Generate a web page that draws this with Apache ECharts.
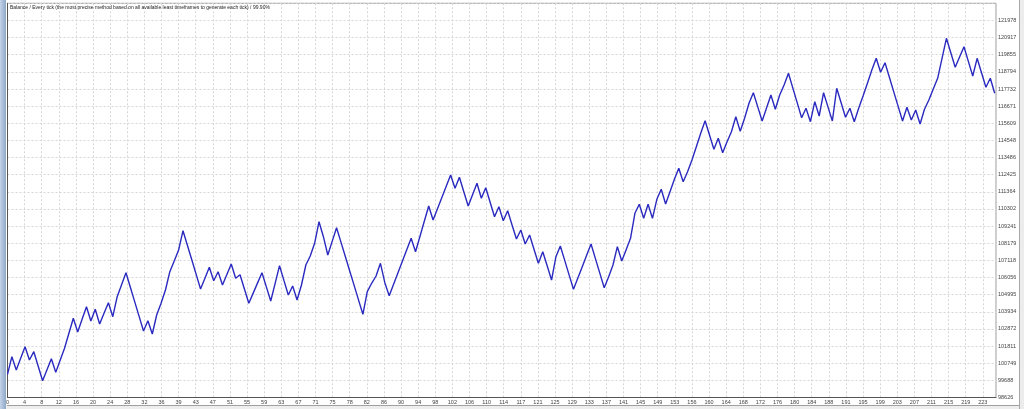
<!DOCTYPE html>
<html><head><meta charset="utf-8">
<script src="https://cdn.jsdelivr.net/npm/echarts@6/dist/echarts.min.js"></script>
<style>html,body{margin:0;padding:0;background:#fff;overflow:hidden}#c{width:1024px;height:409px;}</style>
</head><body><div id="c"></div>
<script>
const titleText = 'Balance / Every tick (the most precise method based on all available least timeframes to generate each tick) / 99.90%';

const xTickLabels = [0,4,8,12,16,20,24,28,32,36,39,43,47,51,55,59,63,67,71,75,78,82,86,90,94,98,102,106,110,114,117,121,125,129,133,137,141,145,149,153,156,160,164,168,172,176,180,184,188,191,195,199,203,207,211,215,219,223];

const yTickLabels = [98626,99688,100749,101811,102872,103934,104995,106056,107118,108179,109241,110302,111364,112425,113486,114548,115609,116671,117732,118794,119855,120917,121978];

const balance = [
100063,101153,100330,101054,101772,100949,101463,100565,99667,100348,
101029,100187,100930,101673,102602,103531,102683,103469,104250,103364,
104089,103178,103841,104497,103630,104869,105612,106355,105451,104547,
103649,102745,103383,102559,103736,104460,105284,106417,107080,107761,
108956,108052,107154,106250,105346,106015,106690,105860,106417,105594,
106244,106894,106009,106231,105346,104460,105092,105724,106355,105476,
104603,105693,106789,105878,104974,105532,104665,105594,106832,107390,
108176,109514,108585,107451,108294,109142,108250,107359,106461,105569,
104671,103779,105179,105699,106151,106937,105736,104931,105643,106355,
107061,107774,108486,107656,108597,109539,110486,109619,110313,111012,
111706,112406,111582,112263,111372,110486,111186,111892,110963,111619,
110721,109823,110443,109576,110195,109309,108442,109000,108133,108690,
107811,106937,107656,106783,105903,107346,108009,107117,106219,105327,
106027,106727,107433,108133,107228,106331,105426,106089,106832,107965,
107080,107780,108486,110034,110591,109724,110591,109724,110901,111520,
110610,111372,112140,112821,111991,112610,113335,114158,114988,115769,
114883,113997,114679,113787,114468,115087,116016,115112,115917,116846,
117503,116623,115750,116555,117360,116475,117360,117980,118704,117788,
116871,115954,116537,115707,116945,116060,117503,116623,115750,117775,
116877,115979,116537,115707,116537,117298,118085,118909,119633,118766,
119361,118456,117552,116654,115750,116599,115812,116431,115564,116475,
117051,117732,118395,119633,120872,119974,119076,119714,120351,119441,
118537,119633,118735,117837,118395,117466
];

const xStep = 3.9, xMax = 225.3;
const yMin = 98626.4, yStep = 1061.45, yMax = yMin + 23 * yStep;

const chart = echarts.init(document.getElementById('c'), null, {renderer: 'canvas'});
const gridColor = '#d6d6d6';
chart.setOption({
  animation: false,
  backgroundColor: '#ffffff',
  title: {
    text: titleText, left: 10, top: 5, padding: 0,
    textStyle: {fontSize: 5, fontWeight: 'normal', color: '#222', fontFamily: 'Liberation Sans'}
  },
  grid: {left: 7.5, right: 28, top: 3.3, bottom: 11.5, show: true, borderColor: '#9a9a9a', borderWidth: 1, backgroundColor: '#fff'},
  xAxis: {
    type: 'value', min: 0, max: xMax, interval: xStep,
    axisLine: {show: true, lineStyle: {color: '#555', width: 1}},
    axisTick: {show: false},
    axisLabel: {
      fontSize: 5.5, color: '#444', fontFamily: 'Liberation Sans', margin: 2, showMaxLabel: false,
      formatter: v => { const i = Math.round(v / xStep); return xTickLabels[i] !== undefined ? String(xTickLabels[i]) : ''; }
    },
    splitLine: {show: true, lineStyle: {color: gridColor, type: [2, 2], width: 1}}
  },
  yAxis: {
    type: 'value', position: 'right', min: yMin, max: yMax, interval: yStep,
    axisLine: {show: true, lineStyle: {color: '#555', width: 1}},
    axisTick: {show: false},
    axisLabel: {
      fontSize: 5.5, color: '#444', fontFamily: 'Liberation Sans', margin: 2, showMaxLabel: false,
      formatter: v => { const i = Math.round((v - yMin) / yStep); return yTickLabels[i] !== undefined ? String(yTickLabels[i]) : ''; }
    },
    splitLine: {show: true, lineStyle: {color: gridColor, type: [2, 2], width: 1}}
  },
  series: [{
    type: 'line', data: balance.map((v, i) => [i, v]),
    symbol: 'none', lineStyle: {color: '#2a2ac0', width: 1.4}, clip: true
  }],
  graphic: [
    {type: 'rect', shape: {x: 0, y: 0, width: 6, height: 409}, style: {fill: new echarts.graphic.LinearGradient(0, 0, 1, 0, [{offset: 0, color: '#c3d3e8'}, {offset: 1, color: '#8ea8c8'}])}},
    {type: 'rect', shape: {x: 6, y: 405, width: 1018, height: 4}, style: {fill: '#eeeeee'}},
    {type: 'line', shape: {x1: 7, y1: 405.5, x2: 1019, y2: 405.5}, style: {stroke: '#a0a0a0', lineWidth: 1}},
    {type: 'rect', shape: {x: 1019, y: 0, width: 5, height: 409}, style: {fill: '#ececec'}},
    {type: 'line', shape: {x1: 1019.5, y1: 0, x2: 1019.5, y2: 409}, style: {stroke: '#a8a8a8', lineWidth: 1}}
  ]
});
</script>
</body></html>
